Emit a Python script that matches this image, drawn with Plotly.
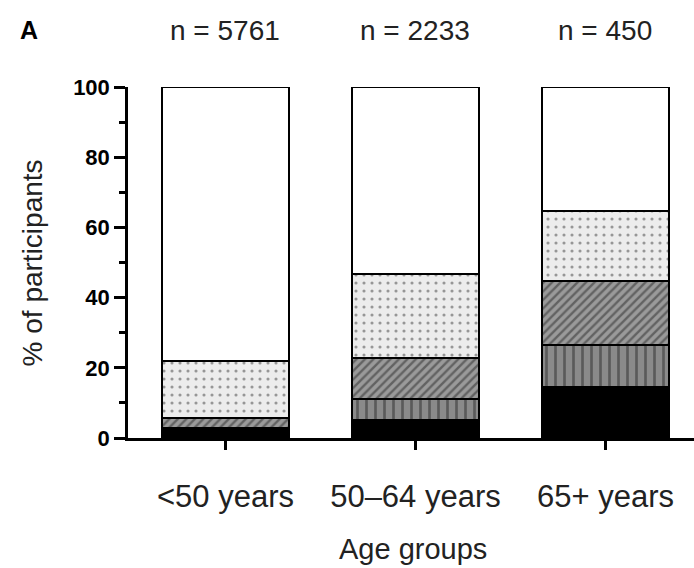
import plotly.graph_objects as go

# Age groups and participant counts
categories = ["<50 years", "50\u201364 years", "65+ years"]
n_labels = ["n = 5761", "n = 2233", "n = 450"]

# Percentage of participants in each stacked category (bottom to top)
solid_black = [2.2, 5.1, 14.5]
vertical_lines = [0.6, 6.0, 12.0]
diagonal_lines = [3.0, 11.7, 18.2]
dotted = [16.2, 23.9, 20.0]
blank = [78.0, 53.3, 35.3]

y_ticks = [0, 20, 40, 60, 80, 100]

FONT = "Liberation Sans, Arial, sans-serif"
LINE = dict(color="black", width=2)

segments = [
    ("Category 1", solid_black, dict(color="black", line=LINE)),
    ("Category 2", vertical_lines,
     dict(color="#8a8a8a", line=LINE,
          pattern=dict(shape="|", fgcolor="#2a2a2a", bgcolor="#8a8a8a",
                       size=9, solidity=0.3, fillmode="overlay"))),
    ("Category 3", diagonal_lines,
     dict(color="#9a9a9a", line=LINE,
          pattern=dict(shape="/", fgcolor="#2a2a2a", bgcolor="#9a9a9a",
                       size=6, solidity=0.4, fillmode="overlay"))),
    ("Category 4", dotted,
     dict(color="#ececec", line=LINE,
          pattern=dict(shape=".", fgcolor="#404040", bgcolor="#ececec",
                       size=8, solidity=0.12, fillmode="overlay"))),
    ("Category 5", blank, dict(color="white", line=LINE)),
]

fig = go.Figure()
for name, vals, marker in segments:
    fig.add_trace(go.Bar(x=categories, y=vals, name=name, marker=marker,
                         width=0.67, showlegend=False))

fig.update_layout(
    barmode="stack",
    width=694, height=568,
    margin=dict(l=128, r=0, t=87, b=130),
    paper_bgcolor="white", plot_bgcolor="white",
    font=dict(family=FONT, color="black"),
)

fig.update_xaxes(
    type="category",
    range=[-0.513, 2.466],
    showline=True, linecolor="black", linewidth=2.5,
    ticks="outside", ticklen=9, tickwidth=2.5, tickcolor="black",
    tickfont=dict(family=FONT, size=31, color="#222"),
    ticklabelstandoff=20,
    showgrid=False, zeroline=False,
)

fig.update_yaxes(
    range=[0, 100],
    tickvals=y_ticks,
    showline=True, linecolor="black", linewidth=2.5,
    ticks="outside", ticklen=11, tickwidth=2.5, tickcolor="black",
    minor=dict(ticks="outside", ticklen=6, tickwidth=2.5, tickcolor="black",
               dtick=10, showgrid=False),
    tickfont=dict(family=FONT, size=22, color="black", weight="bold"),
    showgrid=False, zeroline=False,
)

# Axis titles
fig.add_annotation(text="% of participants", xref="paper", yref="paper",
                   x=-0.168, y=0.5, textangle=-90, showarrow=False,
                   xanchor="center", yanchor="middle",
                   font=dict(family=FONT, size=28, color="#222"))
fig.add_annotation(text="Age groups", xref="paper", yref="paper",
                   x=0.503, y=-0.316, showarrow=False,
                   xanchor="center", yanchor="middle",
                   font=dict(family=FONT, size=29, color="#222"))

# Panel letter and group sizes
fig.add_annotation(text="A", xref="paper", yref="paper",
                   x=-0.175, y=1.162, showarrow=False,
                   xanchor="center", yanchor="middle",
                   font=dict(family=FONT, size=25, color="black", weight="bold"))
for cat, lab in zip(categories, n_labels):
    fig.add_annotation(text=lab, x=cat, xref="x", yref="paper", y=1.16,
                       showarrow=False, xanchor="center", yanchor="middle",
                       font=dict(family=FONT, size=28, color="#222"))

fig.write_html("out.html")
